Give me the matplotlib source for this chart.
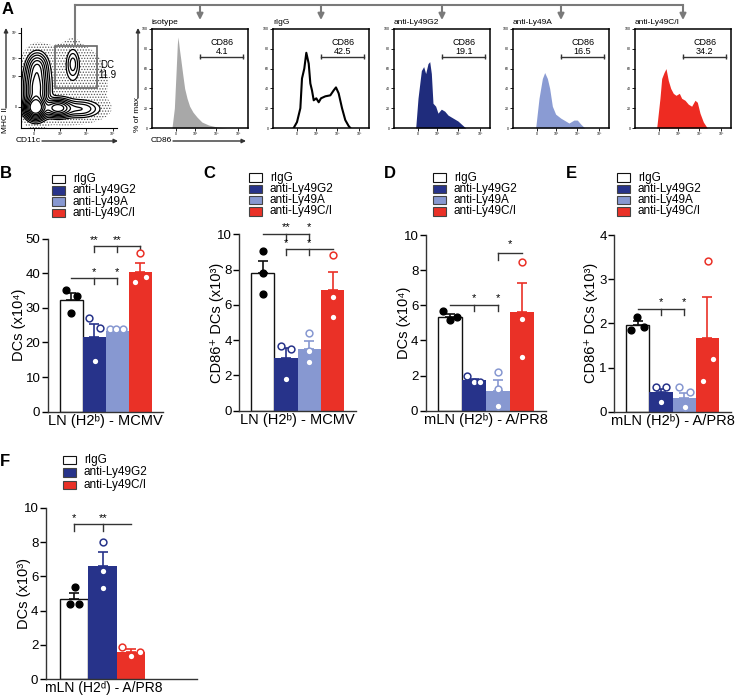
import matplotlib.pyplot as plt
import numpy as np

plt.rcParams["font.family"] = ["Liberation Sans", "DejaVu Sans"]
plt.rcParams["hatch.color"] = "#555555"
plt.rcParams["hatch.linewidth"] = 0.6

# ---------------- data ----------------
groups = ["rIgG", "anti-Ly49G2", "anti-Ly49A", "anti-Ly49C/I"]
colors = ["white", "#27338a", "#8798d1", "#ea3127"]

# B: LN (H2b) - MCMV, DCs (x10^4)
b_means = [32.3, 21.6, 23.4, 40.4]
b_sem = [2.1, 3.8, 0.4, 2.5]
b_points = [[35.2, 33.5, 28.6], [27.0, 24.1, 14.6], [23.9, 23.9, 23.9], [45.7, 37.4, 38.8]]
b_jitter = [[-0.21, 0.24, 0.01], [-0.23, 0.24, 0.03], [-0.3, -0.05, 0.28], [0.02, -0.21, 0.24]]

# C: LN (H2b) - MCMV, CD86+ DCs (x10^3)
c_means = [7.82, 2.97, 3.50, 6.83]
c_sem = [0.68, 0.57, 0.46, 1.03]
c_points = [[9.07, 7.81, 6.63], [3.68, 3.49, 1.81], [4.40, 3.39, 2.76], [8.82, 6.42, 5.30]]
c_jitter = [[0, 0, 0], [-0.23, 0.24, 0], [0, 0, 0], [0, 0, 0]]

# D: mLN (H2b) - A/PR8, DCs (x10^4)
d_means = [5.36, 1.74, 1.13, 5.63]
d_sem = [0.14, 0.08, 0.60, 1.65]
d_points = [[5.67, 5.14, 5.33], [2.00, 1.64, 1.64], [2.19, 1.21, 0.27], [8.49, 5.22, 3.08]]
d_jitter = [[-0.29, 0.01, 0.29], [-0.28, -0.02, 0.26], [0, 0, 0], [0, 0, 0]]

# E: mLN (H2b) - A/PR8, CD86+ DCs (x10^3)
e_means = [1.96, 0.44, 0.32, 1.66]
e_sem = [0.10, 0.08, 0.11, 0.93]
e_points = [[1.85, 2.14, 1.91], [0.57, 0.57, 0.23], [0.55, 0.45, 0.11], [3.41, 1.20, 0.70]]
e_jitter = [[-0.27, -0.02, 0.26], [-0.21, 0.24, 0], [-0.23, 0.23, 0.02], [0.03, 0.24, -0.21]]

# F: mLN (H2d) - A/PR8, DCs (x10^3)
f_groups = ["rIgG", "anti-Ly49G2", "anti-Ly49C/I"]
f_colors = ["white", "#27338a", "#ea3127"]
f_means = [4.70, 6.59, 1.62]
f_sem = [0.33, 0.80, 0.17]
f_points = [[5.40, 4.41, 4.41], [8.03, 6.34, 5.34], [1.91, 1.33, 1.58]]
f_jitter = [[0.03, -0.17, 0.18], [0, 0, 0], [-0.3, 0.01, 0.33]]

# significance brackets: (x start, x end, y, drop positions, drop bottom, [(x, label)], star y)
b_brackets = [(0, 2, 38.6, [1, 2], 37.0, [(1, "*"), (2, "*")], 40.3),
              (1, 3, 47.7, [1, 2, 3], 46.0, [(1, "**"), (2, "**")], 49.6)]
c_brackets = [(0, 2, 10.0, [1, 2], 9.7, [(1, "**"), (2, "*")], 10.4),
              (1, 3, 9.15, [1, 2], 8.85, [(1, "*"), (2, "*")], 9.5)]
d_brackets = [(0, 2, 6.0, [1, 2], 5.7, [(1, "*"), (2, "*")], 6.4),
              (2, 3, 8.95, [2], 8.6, [(2.5, "*")], 9.5)]
e_brackets = [(0, 2, 2.32, [1, 2], 2.19, [(1, "*"), (2, "*")], 2.48)]
f_brackets = [(0, 2, 9.05, [0, 1], 8.65, [(0, "*"), (1, "**")], 9.4)]

# A: flow histograms (CD86 axis 0-100, % of max)
hist_names = ["isotype", "rIgG", "anti-Ly49G2", "anti-Ly49A", "anti-Ly49C/I"]
hist_gate = ["4.1", "42.5", "19.1", "16.5", "34.2"]
hist_colors = ["#a8a8a8", "none", "#1f2c7c", "#8a9bd3", "#ee2b22"]
iso_x = [20.8, 23.3, 25, 26.4, 27.1, 28.5, 29.9, 31.9, 34, 36.5, 39.2, 42.7, 46.9, 52, 59, 67.7, 78]
iso_y = [0, 20, 55, 85, 92, 80, 70, 55, 40, 30, 22, 16, 11, 6, 3, 1, 0]
rig_x = [21.5, 25, 28.5, 30.2, 32.6, 34.7, 37.2, 38.9, 40.6, 42.4, 45.1, 47.6, 50, 54.5, 59.7, 63.2, 65.6, 68.4, 71.9, 75.3, 78.8, 80.6]
rig_y = [0, 6, 20, 50, 60, 76, 65, 45, 38, 28, 30, 26, 30, 32, 33, 38, 41, 35, 20, 8, 2, 0]
g2_x = [22.6, 25, 28.5, 30.9, 33, 35.4, 37.2, 38.9, 40.6, 43.4, 45.8, 49.3, 52.8, 56.3, 61.5, 66.7, 70.1, 74.7]
g2_y = [0, 30, 58, 62, 55, 65, 67, 55, 25, 22, 15, 19, 17, 13, 10, 7, 4, 0]
a_x = [23.6, 27.1, 30.6, 33, 35.8, 38.2, 41, 44.4, 49.7, 54.9, 58.3, 63.5, 67, 70.5, 74.7]
a_y = [0, 30, 50, 56, 50, 40, 22, 14, 10, 7, 5, 8, 8, 4, 0]
ci_x = [22.6, 26, 27.8, 30.2, 32.3, 34.7, 37.2, 39.9, 42.7, 46.2, 48.6, 52.1, 55.6, 59, 62.5, 64.9, 67.7, 71.2, 75.3]
ci_y = [0, 30, 50, 56, 60, 48, 40, 35, 33, 35, 30, 28, 24, 22, 28, 26, 15, 6, 0]
hist_x = [iso_x, rig_x, g2_x, a_x, ci_x]
hist_y = [iso_y, rig_y, g2_y, a_y, ci_y]

# A: MHC II vs CD11c populations (centre x, centre y, spread x, spread y, weight)
pops = [(15, 20, 6, 6, 1.0), (16, 40, 7, 14, 0.6), (17, 62, 6, 8, 0.25),
        (38, 20, 8, 5, 0.6), (62, 19, 12, 5, 0.2), (54, 64, 4, 9, 0.16),
        (50, 45, 30, 30, 0.03)]

W, H = 737, 698
fig = plt.figure(figsize=(W / 100, H / 100), dpi=100)


def box(l, t, w, h):
    return fig.add_axes([l / W, 1 - (t + h) / H, w / W, h / H])


# ---------------- panel A ----------------
ax = box(21, 28, 96, 100)
gx, gy = np.meshgrid(np.linspace(0, 100, 300), np.linspace(0, 100, 300))
dens = np.zeros_like(gx)
for px, py, sx, sy, wt in pops:
    dens += wt * np.exp(-((gx - px) ** 2 / (2 * sx ** 2) + (gy - py) ** 2 / (2 * sy ** 2)))
ax.contourf(gx, gy, dens, levels=[0.012, 0.06], colors="none", hatches=["......"])
ax.contour(gx, gy, dens, levels=[0.06, 0.1, 0.15, 0.22, 0.3, 0.4, 0.52, 0.66, 0.82],
           colors="black", linewidths=0.9)
ax.add_patch(plt.Rectangle((35.4, 40), 43.8, 42, fill=False, ec="#666666", lw=1.2))
ax.text(89.6, 58, "DC\n11.9", ha="center", va="center", fontsize=7, linespacing=1.0)
ax.set_xlim(0, 100)
ax.set_ylim(0, 100)
for s in ["top", "right"]:
    ax.spines[s].set_visible(False)
ax.set_yticks([21, 52, 70, 95], ["0", "10³", "10⁴", "10⁵"], fontsize=2.5)
ax.set_xticks([13.5, 40.6, 67.7, 95.8], ["0", "10³", "10⁴", "10⁵"], fontsize=2.5)
ax.tick_params(length=2, width=0.6, pad=1)

for k, left in enumerate([152, 273, 394, 513, 635]):
    hx = box(left, 29, 96, 99)
    if hist_colors[k] == "none":
        hx.plot(hist_x[k], hist_y[k], color="black", lw=1.5)
    else:
        hx.fill_between(hist_x[k], hist_y[k], color=hist_colors[k], lw=0)
    hx.errorbar([50, 95], [72, 72], yerr=2.5, color="#333333", lw=1, capsize=0, elinewidth=1)
    hx.text(72.5, 82, "CD86\n" + hist_gate[k], ha="center", va="center", fontsize=6.5, linespacing=1.0)
    hx.text(0, 103, hist_names[k], ha="left", va="bottom", fontsize=6)
    hx.set_xlim(0, 100)
    hx.set_ylim(0, 100)
    hx.set_yticks([0, 20, 40, 60, 80, 100], ["0", "20", "40", "60", "80", "100"], fontsize=2.5)
    hx.set_xticks([25, 45, 67, 90], ["0", "10³", "10⁴", "10⁵"], fontsize=2.5)
    hx.tick_params(length=2, width=0.6, pad=1)
    for s in hx.spines.values():
        s.set_linewidth(1.1)


# ---------------- bar panels ----------------
def bar_panel(ax, means, sems, points, jitter, cols, ylim, yticks, ylabel, xlabel, brackets, xmax, lab_x,
              xlab_x=0.5, xlab_y=-0.012, xlab_size=10.5):
    for i in range(len(means)):
        white = cols[i] == "white"
        ec = "#111111" if white else cols[i]
        ax.bar(i, means[i], width=1.0, color=cols[i], edgecolor=ec, linewidth=1.0 if white else 0, zorder=2)
        ax.errorbar(i, means[i], yerr=[[0], [sems[i]]], fmt="none", ecolor=ec,
                    elinewidth=1.2, capsize=3.5, capthick=1.2, zorder=1.5)
        xs = [i + j for j in jitter[i]]
        if white:
            ax.scatter(xs, points[i], s=24, color="black", zorder=3, clip_on=False)
        else:
            ax.scatter(xs, points[i], s=24, facecolor="white", edgecolor=cols[i], linewidth=1.1, zorder=3, clip_on=False)
    for x0, x1, y, drops, ybot, stars, ys in brackets:
        ax.plot([x0, x1], [y, y], color="#333333", lw=1, clip_on=False)
        for d in drops:
            ax.plot([d, d], [y, ybot], color="#333333", lw=1, clip_on=False)
        for sx, lab in stars:
            ax.text(sx, ys, lab, ha="center", va="center", fontsize=8, clip_on=False)
    ax.set_xlim(-1, xmax)
    ax.set_ylim(*ylim)
    ax.set_yticks(yticks)
    ax.set_xticks([])
    ax.tick_params(axis="y", labelsize=9.5, length=4, width=1, pad=1.5)
    for s in ["top", "right"]:
        ax.spines[s].set_visible(False)
    for s in ["left", "bottom"]:
        ax.spines[s].set_linewidth(1)
        ax.spines[s].set_color("#333333")
    ax.set_ylabel(ylabel, fontsize=10.5)
    ax.yaxis.set_label_coords(lab_x, 0.5)
    ax.set_xlabel(xlabel, fontsize=xlab_size)
    ax.xaxis.set_label_coords(xlab_x, xlab_y)


ax_b = box(48, 238.5, 115, 173.2)
bar_panel(ax_b, b_means, b_sem, b_points, b_jitter, colors, (0, 50), [0, 10, 20, 30, 40, 50],
          "DCs (x10⁴)", "LN (H2ᵇ) - MCMV", b_brackets, 4, -0.195)
ax_c = box(239.3, 234.3, 116.5, 176.3)
bar_panel(ax_c, c_means, c_sem, c_points, c_jitter, colors, (0, 10), [0, 2, 4, 6, 8, 10],
          "CD86⁺ DCs (x10³)", "LN (H2ᵇ) - MCMV", c_brackets, 4, -0.135)
ax_d = box(426, 235, 120, 175.7)
bar_panel(ax_d, d_means, d_sem, d_points, d_jitter, colors, (0, 10), [0, 2, 4, 6, 8, 10],
          "DCs (x10⁴)", "mLN (H2ᵇ) - A/PR8", d_brackets, 4, -0.125)
ax_e = box(614.3, 235, 116.5, 176.7)
bar_panel(ax_e, e_means, e_sem, e_points, e_jitter, colors, (0, 4), [0, 1, 2, 3, 4],
          "CD86⁺ DCs (x10³)", "mLN (H2ᵇ) - A/PR8", e_brackets, 4, -0.138)
ax_f = box(46, 507.7, 151, 171.6)
bar_panel(ax_f, f_means, f_sem, f_points, f_jitter, f_colors, (0, 10), [0, 2, 4, 6, 8, 10],
          "DCs (x10³)", "mLN (H2ᵈ) - A/PR8", f_brackets, 4.33, -0.10,
          xlab_x=0.385, xlab_y=-0.008, xlab_size=10)

# ---------------- overlay: letters, legends, arrows ----------------
ov = fig.add_axes([0, 0, 1, 1], zorder=10)
ov.set_xlim(0, W)
ov.set_ylim(H, 0)
ov.axis("off")

for lab, x, y in [("A", 2, 10), ("B", 0, 173), ("C", 203, 173), ("D", 384, 173), ("E", 566, 173), ("F", 0, 461)]:
    ov.text(x, y, lab, fontsize=12, fontweight="bold", ha="left", va="center")


def legend(x, y0, names, cols, step=11.3):
    for i, (n, c) in enumerate(zip(names, cols)):
        y = y0 + i * step
        ec = "#111111" if c == "white" else "#444444"
        ov.add_patch(plt.Rectangle((x, y - 4.2), 13, 8.4, facecolor=c, edgecolor=ec, lw=0.8))
        ov.text(x + 21, y, n, fontsize=8.5, va="center", ha="left")


legend(52, 179, groups, colors)
legend(249, 177.5, groups, colors)
legend(433, 177.5, groups, colors)
legend(617, 177.5, groups, colors)
legend(63, 460, f_groups, f_colors, step=12.5)

# gating tree
gray = "#7a7a7a"
ov.plot([75, 683], [5, 5], color=gray, lw=1.5)
ov.plot([75, 75], [5, 46], color=gray, lw=1.5)
for left in [152, 273, 394, 513, 635]:
    cx = left + 48
    ov.annotate("", xy=(cx, 20), xytext=(cx, 5),
                arrowprops=dict(arrowstyle="-|>", color=gray, lw=1.5, mutation_scale=9, shrinkA=0, shrinkB=0))

# flow axis labels with arrows
arrow = dict(arrowstyle="-|>", color="#333333", lw=1, mutation_scale=6, shrinkA=0, shrinkB=0)
ov.text(6, 120, "MHC II", rotation=90, fontsize=6, ha="center", va="center")
ov.annotate("", xy=(6, 28), xytext=(6, 108), arrowprops=arrow)
ov.text(28, 141, "CD11c", fontsize=6, ha="center", va="center")
ov.annotate("", xy=(118, 141), xytext=(42, 141), arrowprops=arrow)
ov.text(138, 114, "% of max", rotation=90, fontsize=6, ha="center", va="center")
ov.annotate("", xy=(138, 28), xytext=(138, 98), arrowprops=arrow)
ov.text(161, 141, "CD86", fontsize=6, ha="center", va="center")
ov.annotate("", xy=(246, 141), xytext=(173, 141), arrowprops=arrow)

fig.savefig("out.png", dpi=100)
